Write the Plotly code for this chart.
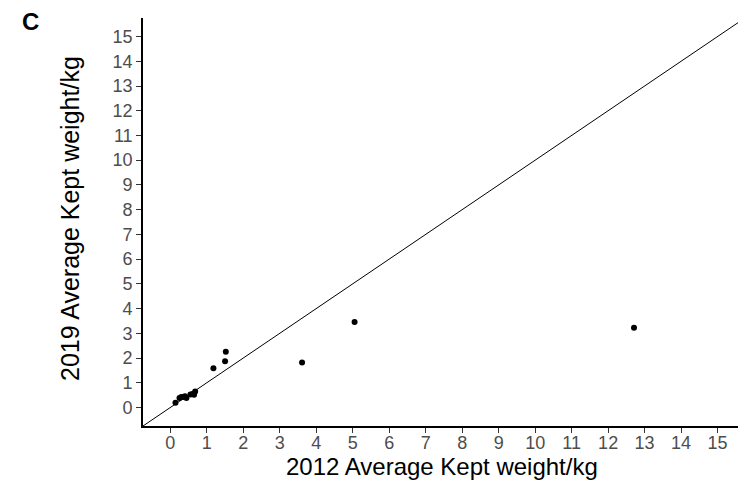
import plotly.graph_objects as go

# Average kept weight per species, 2012 vs 2019 (kg)
kept_2012 = [0.14, 0.25, 0.30, 0.35, 0.40, 0.44, 0.55, 0.62, 0.65, 0.68,
             1.18, 1.50, 1.52, 3.61, 5.05, 12.71]
kept_2019 = [0.19, 0.38, 0.42, 0.42, 0.45, 0.38, 0.52, 0.55, 0.51, 0.65,
             1.59, 1.87, 2.25, 1.82, 3.46, 3.22]

tick_vals = list(range(0, 16))
identity = [-1, 16]

FONT = "Liberation Sans, Arial, sans-serif"

# plot area in pixels
L, T, B = 143, 18, 64
W, H = 738 - L, 490 - T - B


def px_x(p):
    return (p - L) / W


def px_y(p):
    return (490 - B - p) / H


fig = go.Figure()

# y = x reference line
fig.add_trace(go.Scatter(
    x=identity, y=identity, mode="lines",
    line=dict(color="black", width=1), hoverinfo="skip", showlegend=False,
))

fig.add_trace(go.Scatter(
    x=kept_2012, y=kept_2019, mode="markers",
    marker=dict(color="black", size=6), showlegend=False,
))

axis_common = dict(
    showgrid=False, zeroline=False,
    showline=True, linecolor="black", linewidth=1.6,
    ticks="outside", ticklen=5, tickwidth=1.2, tickcolor="#333333",
    tickvals=tick_vals,
    tickfont=dict(family=FONT, size=18, color="#4D4D4D"),
)

fig.update_layout(
    width=738, height=490,
    margin=dict(l=L, r=0, t=T, b=B),
    plot_bgcolor="white", paper_bgcolor="white",
    xaxis=dict(range=[-0.75, 15.56], ticklabelstandoff=-5, **axis_common),
    yaxis=dict(range=[-0.75, 15.75], **axis_common),
    annotations=[
        dict(text="<b>C</b>", x=px_x(30), y=px_y(22),
             font=dict(family=FONT, size=24, color="black")),
        dict(text="2012 Average Kept weight/kg", x=px_x(442), y=px_y(466),
             font=dict(family=FONT, size=24, color="black")),
        dict(text="2019 Average Kept weight/kg", x=px_x(70), y=px_y(219),
             textangle=-90, font=dict(family=FONT, size=25, color="black")),
    ],
)
fig.update_annotations(xref="paper", yref="paper", xanchor="center",
                       yanchor="middle", showarrow=False)

fig.write_html("out.html")
